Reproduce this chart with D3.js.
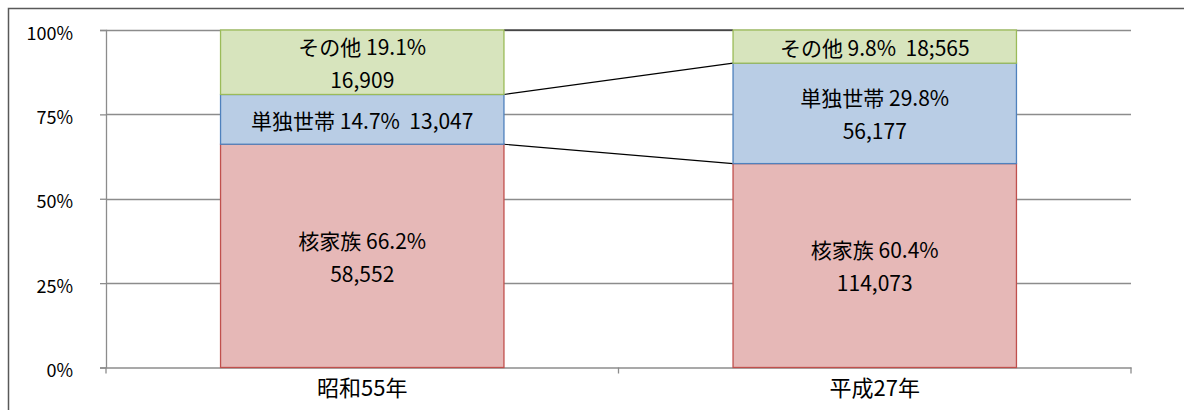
<!DOCTYPE html>
<html>
<head>
<meta charset="utf-8">
<script src="https://cdn.jsdelivr.net/npm/d3@7"></script>
<style>
  body { margin: 0; background: #fff; }
  svg { display: block; font-family: "Noto Sans CJK JP", "Noto Sans", sans-serif; }
</style>
</head>
<body>
<svg id="chart" width="1184" height="410"></svg>
<script>
// categories and series
var years = ["昭和55年", "平成27年"];
var seriesNames = ["核家族", "単独世帯", "その他"];
var kakukazoku = [58552, 114073];
var tandoku = [13047, 56177];
var sonota = [16909, 18565];
var pctLabels = [["66.2%", "14.7%", "19.1%"], ["60.4%", "29.8%", "9.8%"]];
var countLabels = [["58,552", "13,047", "16,909"], ["114,073", "56,177", "18;565"]];
var yTicks = [0, 0.25, 0.5, 0.75, 1];

var fills = ["#e6b8b7", "#b9cde5", "#d7e4bd"];
var strokes = ["#c0504d", "#4f81bd", "#9bbb59"];

var svg = d3.select("#chart");
var padding = {top: 30, left: 106, right: 53, bottom: 42.5};
var chartArea = {
    width: 1184 - padding.left - padding.right,
    height: 410 - padding.top - padding.bottom
};

// outer frame (runs off the right and bottom)
svg.append("path")
    .attr("d", "M8.5,1000 V8.5 H1200")
    .attr("fill", "none")
    .attr("stroke", "#595959")
    .attr("stroke-width", 1.5);

// rows -> stacked shares
var rows = years.map(function(y, i) {
    var total = kakukazoku[i] + tandoku[i] + sonota[i];
    return {year: y, idx: i, "核家族": kakukazoku[i] / total, "単独世帯": tandoku[i] / total, "その他": sonota[i] / total};
});
var stacked = d3.stack().keys(seriesNames)(rows);

var xScale = d3.scaleBand().domain(years).range([0, chartArea.width])
    .paddingInner(0.447).paddingOuter(0.2235);
var yScale = d3.scaleLinear().domain([0, 1]).range([chartArea.height, 0]);

var g = svg.append("g").attr("transform", "translate(" + padding.left + "," + padding.top + ")");

// gridlines
g.append("g").selectAll("line").data(yTicks.filter(function(d){ return d > 0; })).enter()
    .append("line")
    .attr("x1", 0).attr("x2", chartArea.width)
    .attr("y1", function(d){ return Math.round(yScale(d)) + 0.5; })
    .attr("y2", function(d){ return Math.round(yScale(d)) + 0.5; })
    .attr("stroke", "#8c8c8c").attr("stroke-width", 1.3);

// y axis
var yAxis = g.append("g").call(d3.axisLeft(yScale).tickValues(yTicks).tickFormat(d3.format(".0%")).tickSize(6).tickPadding(27));
yAxis.select(".domain").attr("stroke", "#8c8c8c").attr("stroke-width", 1.3);
yAxis.selectAll(".tick line").attr("stroke", "#8c8c8c").attr("stroke-width", 1.3);
yAxis.selectAll("text").attr("font-size", 18).attr("fill", "#000").attr("dy", "0.5em")
    .attr("font-family", "\"Noto Sans CJK JP\", sans-serif");

// x axis
var xAxis = g.append("g").attr("transform", "translate(0," + chartArea.height + ")")
    .call(d3.axisBottom(xScale).tickSize(0).tickPadding(13));
xAxis.select(".domain").attr("stroke", "#8c8c8c").attr("stroke-width", 1.3);
xAxis.selectAll("text").attr("font-size", 22).attr("fill", "#000")
    .attr("font-family", "\"Noto Sans CJK JP\", sans-serif");
// category boundary ticks
g.append("g").selectAll("line").data([0, 1, 2]).enter().append("line")
    .attr("x1", function(d){ return d * xScale.step(); })
    .attr("x2", function(d){ return d * xScale.step(); })
    .attr("y1", chartArea.height).attr("y2", chartArea.height + 6)
    .attr("stroke", "#8c8c8c").attr("stroke-width", 1.3);

// series connector lines
var x0 = xScale(years[0]) + xScale.bandwidth();
var x1 = xScale(years[1]);
g.append("g").selectAll("line").data(stacked).enter().append("line")
    .attr("x1", x0).attr("x2", x1)
    .attr("y1", function(s){ return yScale(s[0][1]); })
    .attr("y2", function(s){ return yScale(s[1][1]); })
    .attr("stroke", "#000").attr("stroke-width", 1.2);

// bars
var layers = g.append("g").selectAll("g").data(stacked).enter().append("g");
layers.selectAll("rect").data(function(s, si){ return s.map(function(d){ return {d: d, si: si}; }); }).enter()
    .append("rect")
    .attr("x", function(o){ return xScale(o.d.data.year); })
    .attr("width", xScale.bandwidth())
    .attr("y", function(o){ return yScale(o.d[1]); })
    .attr("height", function(o){ return yScale(o.d[0]) - yScale(o.d[1]); })
    .attr("fill", function(o){ return fills[o.si]; })
    .attr("stroke", function(o){ return strokes[o.si]; })
    .attr("stroke-width", 1.3);

// labels
var lineGap = 33;
layers.each(function(s, si) {
    s.forEach(function(d) {
        var i = d.data.idx;
        var cx = xScale(d.data.year) + xScale.bandwidth() / 2;
        var top = yScale(d[1]), bot = yScale(d[0]);
        var cy = (top + bot) / 2 + 2;
        var head = seriesNames[si] + " " + pctLabels[i][si];
        var lines = (bot - top) > 55 ? [head, countLabels[i][si]] : [head + "\u00a0\u00a0" + countLabels[i][si]];
        var t = g.append("text")
            .attr("text-anchor", "middle")
            .attr("font-size", 21)
            .attr("fill", "#000");
        lines.forEach(function(ln, k) {
            t.append("tspan")
                .attr("x", cx)
                .attr("y", cy + (k - (lines.length - 1) / 2) * lineGap)
                .attr("dy", "0.35em")
                .text(ln);
        });
    });
});
</script>
</body>
</html>
